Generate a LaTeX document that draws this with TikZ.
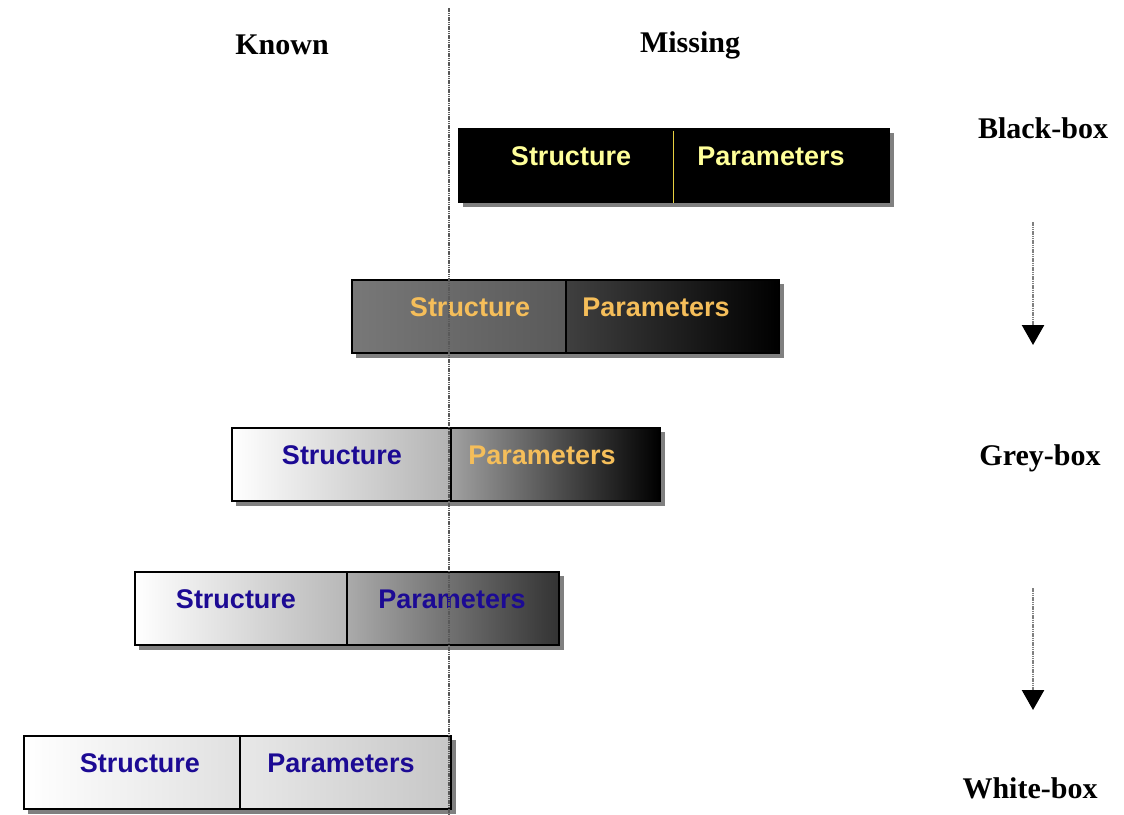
\documentclass[tikz,border=0pt]{standalone}
\usepackage{fontspec}
\setmainfont{Liberation Serif}
\newfontfamily\boxfont{Liberation Sans}
\usetikzlibrary{arrows.meta}

\definecolor{paleyellow}{HTML}{FFFF99}
\definecolor{lineyellow}{HTML}{E8D040}
\definecolor{lightorange}{HTML}{F5BE5A}
\definecolor{darkblue}{HTML}{1C0A94}
\definecolor{shadowgray}{HTML}{808080}

\begin{document}
\begin{tikzpicture}[x=0.4pt, y=-0.4pt]
    \tikzstyle{half} = [draw=black, line width=0.6pt, inner sep=0pt, anchor=north west, minimum height=29.2pt]
    \tikzstyle{boxtext} = [font=\boxfont\bfseries\fontsize{10.8}{13}\selectfont]
    \tikzstyle{heading} = [font=\bfseries\fontsize{12}{14}\selectfont]
    \tikzstyle{dotline} = [black!65, line width=1pt, dash pattern=on 0.6pt off 0.3pt]

    \useasboundingbox (0,0) rectangle (1124,814);

    % Column headings
    \node[heading] (known) at (282,45) {Known};
    \node[heading] (missing) at (690,45) {Missing};

    % Model classes on the right
    \node[heading] (blackbox) at (1043,128) {Black-box};
    \node[heading] (greybox) at (1040,458) {Grey-box};
    \node[heading] (whitebox) at (1030,788) {White-box};

    % The five boxes: shadow, left half (structure), right half (parameters)
    \foreach \n/\xl/\xm/\xr/\yt/\ls/\le/\rs/\re/\sc/\pc/\dc/\sx/\px in {
        b1/458/672/888/128/black/black/black/black/paleyellow/paleyellow/lineyellow/571/771,
        b2/351/565/778/279/black!53/black!65/black!75/black/lightorange/lightorange/black/470/656,
        b3/231/450/659/427/white/black!30/black!37/black/darkblue/lightorange/black/342/542,
        b4/134/346/558/571/white/black!28/black!33/black!80/darkblue/darkblue/black/236/452,
        b5/23/239/450/735/white/black!12/black!9/black!22/darkblue/darkblue/black/140/341} {
        \fill[shadowgray] (\xl+5,\yt+5) rectangle (\xr+6,\yt+79);
        \node[half, minimum width={(\xm-\xl)*0.4pt}, left color=\ls, right color=\le] (\n-s) at (\xl,\yt) {};
        \node[half, minimum width={(\xr-\xm)*0.4pt}, left color=\rs, right color=\re] (\n-p) at (\xm,\yt) {};
        \draw[\dc, line width=0.7pt] ([yshift=-1pt]\n-s.north east) -- (\n-s.south east);
        \node[boxtext, text=\sc] (\n-stext) at (\sx,\yt+28) {Structure};
        \node[boxtext, text=\pc] (\n-ptext) at (\px,\yt+28) {Parameters};
    }

    % Known / missing border
    \coordinate (divtop) at (449,8);
    \coordinate (divbot) at (449,814);
    \draw[dotline] (divtop) -- (divbot);

    % Arrows between the classes
    \coordinate (a1top) at (1033,222);
    \coordinate (a1tip) at (1033,345);
    \coordinate (a2top) at (1033,588);
    \coordinate (a2tip) at (1033,710);
    \draw[dotline, black!50, -{Triangle[color=black, width=8.8pt, length=8pt]}] (a1top) -- (a1tip);
    \draw[dotline, black!50, -{Triangle[color=black, width=8.8pt, length=8pt]}] (a2top) -- (a2tip);
\end{tikzpicture}
\end{document}
